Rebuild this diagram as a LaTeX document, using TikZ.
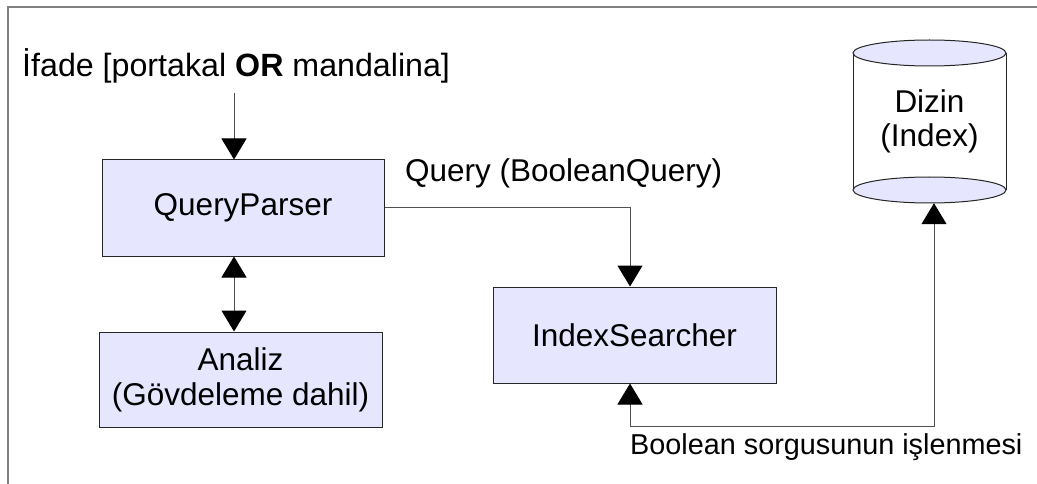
\documentclass[tikz,border=0pt]{standalone}
\usepackage{fontspec}
\setmainfont{Liberation Sans}
\usetikzlibrary{arrows.meta,calc}

\definecolor{boxfill}{HTML}{E6E6FF}
\definecolor{linecol}{HTML}{505050}

\tikzset{
  px/.style={x=1pt,y=-1pt},
  procbox/.style={draw=black!85, line width=1pt, fill=boxfill, rectangle,
    minimum width=282pt, minimum height=96pt, inner sep=0pt, align=center,
    font=\fontsize{31.5}{35}\selectfont},
  wire/.style={draw=linecol, line width=1pt},
  tip/.style={-{Triangle[length=21pt,width=25pt,color=black]}},
  bothtips/.style={{Triangle[length=21pt,width=25pt,color=black]}-{Triangle[length=21pt,width=25pt,color=black]}},
  caption/.style={inner sep=0pt, anchor=base west},
  frameline/.style={draw=gray, line width=1.5pt},
}

\begin{document}
\begin{tikzpicture}[px]
  \useasboundingbox (0,0) rectangle (1037,484);

  % outer frame (top and left edges only)
  \draw[frameline] (8,484) -- (8,7) -- (1037,7);

  % input expression
  \node[caption, font=\fontsize{32.2}{36}\selectfont] (ttl) at (22,77)
    {İfade [portakal \textbf{OR} mandalina]};

  % processing boxes
  \node[procbox] (qp) at (243,208) {QueryParser};
  \node[procbox, minimum width=283pt, minimum height=95pt] (an) at (240.5,379.5)
    {Analiz\\(Gövdeleme dahil)};
  \node[procbox, minimum width=283pt] (is) at (634.5,335) {IndexSearcher};

  % index store drawn as a cylinder
  \node[rectangle, inner sep=0pt, minimum width=153pt, minimum height=163pt] (db) at (929.5,121.5) {};
  \fill[white] (853,53) rectangle (1006,190);
  \draw[draw=black!85, line width=1pt] (853,53) -- (853,190);
  \draw[draw=black!85, line width=1pt] (1006,53) -- (1006,190);
  \filldraw[fill=boxfill, draw=black!85, line width=1pt]
    (929.5,190) ellipse [x radius=76.5pt, y radius=13pt];
  \filldraw[fill=boxfill, draw=black!85, line width=1pt]
    (929.5,53) ellipse [x radius=76.5pt, y radius=13pt];
  \node[align=center, inner sep=0pt, font=\fontsize{31.5}{34}\selectfont]
    (dblabel) at (db.center) {Dizin\\(Index)};

  % connector anchors
  \coordinate (inx) at (234,93);
  \coordinate (qx) at (630,0);
  \coordinate (turn) at (934,426);

  % connectors
  \draw[wire, tip] (inx) -- (inx |- qp.north);
  \draw[wire, bothtips] (qp.south -| inx) -- (an.north -| inx);
  \draw[wire, tip] (qp.east) -| (is.north -| qx);
  \draw[wire, bothtips] (is.south -| qx) |- (turn) -- (db.south -| turn);

  % connector labels
  \node[caption, font=\fontsize{31.5}{35}\selectfont] (qlabel) at (405,182)
    {Query (BooleanQuery)};
  \node[caption, font=\fontsize{28.8}{32}\selectfont] (blabel) at (630,454)
    {Boolean sorgusunun işlenmesi};
\end{tikzpicture}
\end{document}
